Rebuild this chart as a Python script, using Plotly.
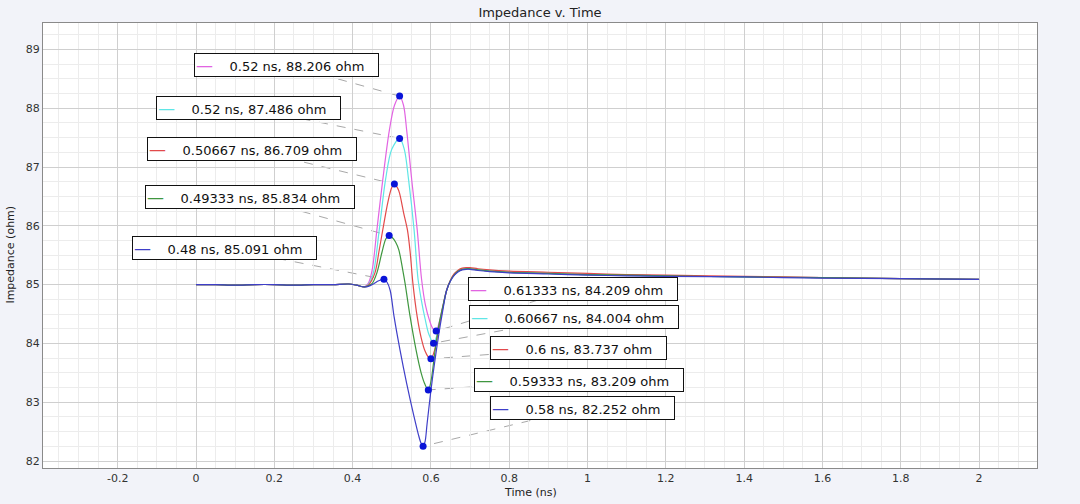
import plotly.graph_objects as go

# ---------------- data ----------------
# shared flat lead-in before the discontinuity
t_head = [0.0, 0.05, 0.1, 0.15, 0.2, 0.25, 0.3, 0.35, 0.39, 0.41, 0.43]
z_head = [85.0, 85.0, 84.99, 85.0, 85.0, 84.99, 85.0, 85.0, 85.01, 84.99, 84.96]

# shared settling time points after the discontinuity
t_tail = [0.64, 0.65, 0.66, 0.67, 0.68, 0.69, 0.70, 0.72, 0.75, 0.8, 0.9, 1.0, 1.1, 1.2, 1.4, 1.6, 1.8, 2.0]

# magenta
t_mag = [0.44, 0.45, 0.462, 0.477, 0.494, 0.507, 0.52, 0.53, 0.538, 0.551, 0.565, 0.576, 0.586, 0.596, 0.605, 0.61333, 0.62, 0.63]
z_mag = [85.02, 85.25, 85.93, 86.78, 87.63, 88.05, 88.206, 88.05, 87.63, 86.78, 85.93, 85.1, 84.65, 84.4, 84.25, 84.209, 84.33, 84.62]
z_mag_tail = [84.9, 85.07, 85.17, 85.23, 85.26, 85.27, 85.27, 85.25, 85.23, 85.21, 85.19, 85.17, 85.16, 85.15, 85.13, 85.12, 85.1, 85.09]

# cyan
t_cya = [0.44, 0.453, 0.468, 0.484, 0.50, 0.52, 0.532, 0.543, 0.557, 0.567, 0.576, 0.585, 0.595, 0.60667, 0.615, 0.625, 0.633]
z_cya = [85.0, 85.2, 85.93, 86.78, 87.3, 87.486, 87.3, 86.78, 85.93, 85.1, 84.72, 84.42, 84.15, 84.004, 84.13, 84.43, 84.68]
z_cya_tail = [84.9, 85.07, 85.17, 85.23, 85.26, 85.27, 85.27, 85.25, 85.23, 85.21, 85.19, 85.17, 85.16, 85.15, 85.13, 85.12, 85.1, 85.09]

# red
t_red = [0.44, 0.457, 0.467, 0.477, 0.49, 0.50, 0.50667, 0.515, 0.52, 0.53, 0.54, 0.547, 0.554, 0.565, 0.575, 0.585, 0.593, 0.6, 0.61, 0.62, 0.63]
z_red = [84.99, 85.2, 85.55, 85.93, 86.4, 86.65, 86.709, 86.64, 86.55, 86.23, 85.93, 85.55, 85.02, 84.45, 84.1, 83.87, 83.77, 83.737, 83.9, 84.25, 84.6]
z_red_tail = [84.9, 85.08, 85.19, 85.25, 85.28, 85.29, 85.29, 85.27, 85.25, 85.23, 85.21, 85.19, 85.17, 85.16, 85.14, 85.12, 85.1, 85.09]

# green
t_grn = [0.44, 0.45, 0.462, 0.475, 0.485, 0.49333, 0.50, 0.51, 0.518, 0.528, 0.534, 0.547, 0.562, 0.575, 0.585, 0.59333, 0.60, 0.61, 0.62, 0.63]
z_grn = [84.98, 85.02, 85.2, 85.55, 85.78, 85.834, 85.81, 85.72, 85.59, 85.25, 85.02, 84.45, 83.89, 83.5, 83.3, 83.209, 83.35, 83.85, 84.3, 84.62]
z_grn_tail = [84.9, 85.07, 85.17, 85.23, 85.26, 85.27, 85.27, 85.25, 85.23, 85.21, 85.19, 85.17, 85.16, 85.15, 85.13, 85.12, 85.1, 85.09]

# blue
t_blu = [0.44, 0.455, 0.465, 0.48, 0.488, 0.496, 0.506, 0.521, 0.538, 0.557, 0.568, 0.575, 0.58, 0.585, 0.59, 0.60, 0.61, 0.62, 0.63]
z_blu = [84.97, 85.02, 85.06, 85.091, 85.04, 84.9, 84.45, 83.89, 83.32, 82.75, 82.45, 82.3, 82.252, 82.33, 82.62, 83.2, 83.7, 84.15, 84.55]
z_blu_tail = [84.9, 85.06, 85.16, 85.22, 85.25, 85.26, 85.26, 85.24, 85.22, 85.2, 85.18, 85.16, 85.15, 85.14, 85.13, 85.11, 85.1, 85.09]

# marked points (peak / trough values shown in the callouts)
mark_t = [0.52, 0.52, 0.50667, 0.49333, 0.48, 0.61333, 0.60667, 0.6, 0.59333, 0.58]
mark_z = [88.206, 87.486, 86.709, 85.834, 85.091, 84.209, 84.004, 83.737, 83.209, 82.252]
mark_color_idx = [0, 1, 2, 3, 4, 0, 1, 2, 3, 4]

# axis tick labels
x_ticks = [-0.2, 0, 0.2, 0.4, 0.6, 0.8, 1, 1.2, 1.4, 1.6, 1.8, 2]
x_tick_text = ["-0.2", "0", "0.2", "0.4", "0.6", "0.8", "1", "1.2", "1.4", "1.6", "1.8", "2"]

# ---------------- styling / layout ----------------
colors = ["#e264e2", "#5fe6e6", "#e24a4a", "#3f973f", "#3f3fc8"]
curves = [
    (t_mag, z_mag, z_mag_tail),
    (t_cya, z_cya, z_cya_tail),
    (t_red, z_red, z_red_tail),
    (t_grn, z_grn, z_grn_tail),
    (t_blu, z_blu, z_blu_tail),
]
# callout box centres (data coordinates), one per marked point
label_x = [0.230, 0.134, 0.142, 0.137, 0.0715, 0.9625, 0.965, 0.977, 0.979, 0.988]
label_y = [88.743, 88.003, 87.298, 86.49, 85.622, 84.917, 84.446, 83.927, 83.386, 82.901]

FONT = "DejaVu Sans, Verdana, sans-serif"

fig = go.Figure()
for (tm, zm, zt), c in zip(curves, colors):
    fig.add_trace(go.Scatter(
        x=t_head + tm + t_tail, y=z_head + zm + zt,
        mode="lines", line=dict(color=c, width=1.2, shape="spline", smoothing=0.9),
        showlegend=False, hoverinfo="skip"))

fig.add_trace(go.Scatter(
    x=mark_t, y=mark_z, mode="markers",
    marker=dict(color="#0a14d8", size=7), showlegend=False, hoverinfo="skip"))

shapes = []
annotations = []
NB = "\u00a0"
for i in range(len(mark_t)):
    shapes.append(dict(type="line", xref="x", yref="y",
                       x0=label_x[i], y0=label_y[i], x1=mark_t[i], y1=mark_z[i],
                       line=dict(color="#a8a8a8", width=1, dash="dash"), layer="below"))
    col = colors[mark_color_idx[i]]
    txt = (f'<span style="color:{col};font-size:17px">\u2014</span>' + NB * 4 +
           f"{mark_t[i]:g} ns, {mark_z[i]:g} ohm" + NB * 3)
    annotations.append(dict(x=label_x[i], y=label_y[i], xref="x", yref="y",
                            text=txt, showarrow=False,
                            font=dict(family=FONT, size=13, color="#111111"),
                            bgcolor="#ffffff", bordercolor="#111111", borderwidth=1,
                            borderpad=1, xanchor="center", yanchor="middle"))

annotations.append(dict(text="Time (ns)", x=0.49, y=-0.054, xref="paper", yref="paper",
                        showarrow=False, font=dict(family=FONT, size=11, color="#222222"),
                        xanchor="center", yanchor="middle"))
annotations.append(dict(text="Impedance (ohm)", x=-0.033, y=0.48, xref="paper", yref="paper",
                        showarrow=False, textangle=-90,
                        font=dict(family=FONT, size=11, color="#222222"),
                        xanchor="center", yanchor="middle"))

fig.update_layout(
    width=1080, height=504,
    margin=dict(l=43, r=43, t=23, b=36),
    paper_bgcolor="#f2f3f9", plot_bgcolor="#ffffff",
    title=dict(text="Impedance v. Time", x=0.5, xanchor="center", y=1 - 12 / 504, yanchor="middle",
               font=dict(family=FONT, size=13, color="#222222")),
    font=dict(family=FONT, size=11, color="#333333"),
    shapes=shapes, annotations=annotations,
    xaxis=dict(range=[-0.3908, 2.148], tickmode="array", tickvals=x_ticks, ticktext=x_tick_text,
               showgrid=True, gridcolor="#cfcfcf", gridwidth=1, zeroline=False,
               showline=True, linecolor="#8a8a8a", linewidth=1, mirror=True,
               ticks="", tickfont=dict(family=FONT, size=11, color="#333333"),
               minor=dict(dtick=0.05, tick0=0, showgrid=True, gridcolor="#ececec", gridwidth=1)),
    yaxis=dict(range=[81.881, 89.449], tick0=82, dtick=1, showgrid=True,
               gridcolor="#cfcfcf", gridwidth=1, zeroline=False,
               showline=True, linecolor="#8a8a8a", linewidth=1, mirror=True,
               ticks="", tickfont=dict(family=FONT, size=11, color="#333333"),
               minor=dict(dtick=0.25, showgrid=True, gridcolor="#ececec", gridwidth=1)),
)

fig.write_html("out.html", config={"displayModeBar": False},
               post_script="document.body.style.margin='0px';")
